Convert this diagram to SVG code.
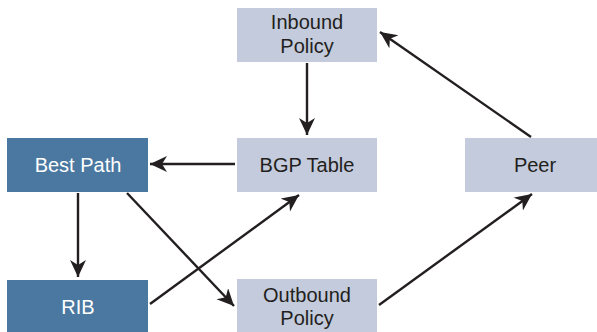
<svg xmlns="http://www.w3.org/2000/svg" width="597" height="332" viewBox="0 0 597 332">
<style>
.light{fill:#c3cbdc}
.dark{fill:#4a78a0}
.t{font-family:"Liberation Sans",Arial,sans-serif;font-size:20px;text-anchor:middle;fill:#231f20}
.w{fill:#ffffff}
.c line{stroke:#231f20;stroke-width:2.4;fill:none;marker-end:url(#ah)}
</style>
<defs>
<marker id="ah" markerUnits="userSpaceOnUse" markerWidth="20" markerHeight="18" refX="17" refY="8" orient="auto" viewBox="0 0 20 18">
<path d="M0,0 L17,8 L0,16 L5,8 Z" fill="#231f20"/>
</marker>
</defs>
<rect width="597" height="332" fill="#ffffff"/>
<g id="inbound"><rect class="light" x="237" y="8" width="140" height="54"/><text class="t" x="307" y="29">Inbound</text><text class="t" x="307" y="53">Policy</text></g>
<g id="bgp"><rect class="light" x="237" y="138" width="140" height="54"/><text class="t" x="307" y="172">BGP Table</text></g>
<g id="best"><rect class="dark" x="7" y="138" width="141" height="54"/><text class="t w" x="78" y="172">Best Path</text></g>
<g id="peer"><rect class="light" x="465" y="138" width="140" height="54"/><text class="t" x="535" y="172">Peer</text></g>
<g id="rib"><rect class="dark" x="7" y="280" width="141" height="54"/><text class="t w" x="78" y="314">RIB</text></g>
<g id="outbound"><rect class="light" x="237" y="279" width="140" height="55"/><text class="t" x="307" y="302">Outbound</text><text class="t" x="307" y="325">Policy</text></g>
<g id="connectors" class="c">
<line x1="307" y1="63" x2="307" y2="135"/>
<line x1="235" y1="164" x2="150" y2="164"/>
<line x1="78" y1="193" x2="78" y2="277"/>
<line x1="127" y1="193" x2="234" y2="306"/>
<line x1="150" y1="304" x2="299" y2="195"/>
<line x1="379" y1="305" x2="532" y2="194"/>
<line x1="531" y1="137" x2="380" y2="32"/>
</g>
</svg>
